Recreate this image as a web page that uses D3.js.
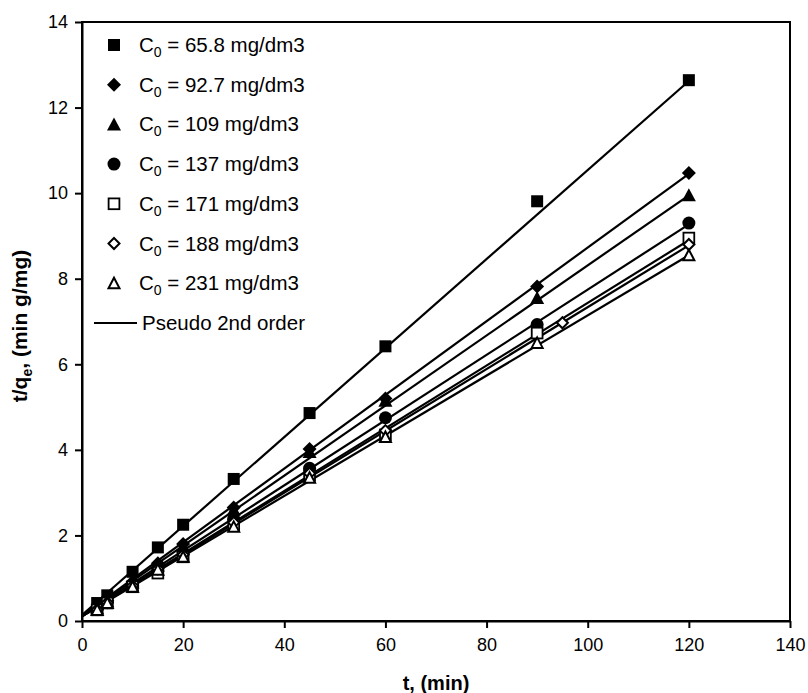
<!DOCTYPE html>
<html>
<head>
<meta charset="utf-8">
<script src="https://cdn.jsdelivr.net/npm/d3@7"></script>
<style>
body { margin:0; background:#fff; }
svg { font-family: "Liberation Sans", Arial, Helvetica, sans-serif; }
</style>
</head>
<body>
<svg id="chart" width="808" height="693"></svg>
<script>
// sampling times (min)
var times     = [3, 5, 10, 15, 20, 30, 45, 60, 90, 120],
    times188  = [3, 5, 10, 15, 20, 30, 45, 60, 95, 120];

// t/qe values
var c658 = [0.42, 0.60, 1.15, 1.72, 2.25, 3.32, 4.86, 6.42, 9.81, 12.64],
    c927 = [0.30, 0.48, 0.92, 1.35, 1.80, 2.65, 4.02, 5.20, 7.82, 10.47],
    c109 = [0.30, 0.46, 0.90, 1.30, 1.75, 2.60, 3.95, 5.15, 7.55, 9.95],
    c137 = [0.28, 0.44, 0.85, 1.25, 1.60, 2.38, 3.57, 4.75, 6.93, 9.30],
    c171 = [0.26, 0.42, 0.80, 1.12, 1.50, 2.25, 3.40, 4.35, 6.73, 8.95],
    c188 = [0.27, 0.43, 0.82, 1.22, 1.55, 2.30, 3.45, 4.45, 6.97, 8.80],
    c231 = [0.26, 0.42, 0.80, 1.20, 1.50, 2.20, 3.35, 4.30, 6.50, 8.55];

// pseudo 2nd order lines: value at t=0 and at t=120
var fitT     = [0, 120],
    fitStart = [0.14, 0.12, 0.12, 0.12, 0.11, 0.11, 0.11],
    fitEnd   = [12.62, 10.45, 9.95, 9.27, 8.9, 8.78, 8.55];

var labels  = ["65.8", "92.7", "109", "137", "171", "188", "231"],
    symbols = ["square", "diamond", "triangle", "circle", "square", "diamond", "triangle"],
    filled  = [true, true, true, true, false, false, false];

var xTicks = [0, 20, 40, 60, 80, 100, 120, 140],
    yTicks = [0, 2, 4, 6, 8, 10, 12, 14];

var series = [
	{t: times, v: c658}, {t: times, v: c927}, {t: times, v: c109}, {t: times, v: c137},
	{t: times, v: c171}, {t: times188, v: c188}, {t: times, v: c231}
];

var svg = d3.select("#chart"),
    x = d3.scaleLinear().domain([0, 140]).range([82, 790]),
    y = d3.scaleLinear().domain([0, 14]).range([621, 22]);

function marker(sel, kind, isFilled) {
	var fill = isFilled ? "#000" : "#fff", sw = isFilled ? 0 : 2;
	if (kind == "square")
		sel.append("rect").attr("x", -6).attr("y", -6).attr("width", 12).attr("height", 12)
			.attr("fill", fill).attr("stroke", "#000").attr("stroke-width", sw)
			.attr("transform", isFilled ? null : "scale(0.9)");
	else if (kind == "diamond")
		sel.append("path").attr("d", isFilled ? "M0,-7L7,0L0,7L-7,0Z" : "M0,-5.5L5.5,0L0,5.5L-5.5,0Z")
			.attr("fill", fill).attr("stroke", "#000").attr("stroke-width", sw);
	else if (kind == "triangle")
		sel.append("path").attr("d", isFilled ? "M0,-7L7,6L-7,6Z" : "M0,-5.5L5.5,5L-5.5,5Z")
			.attr("fill", fill).attr("stroke", "#000").attr("stroke-width", sw);
	else
		sel.append("circle").attr("r", 6.5).attr("fill", fill);
}

// frame
svg.append("rect").attr("x", 82).attr("y", 22).attr("width", 708).attr("height", 599)
	.attr("fill", "none").attr("stroke", "#000").attr("stroke-width", 2);

// axes
var xAxis = svg.append("g").attr("transform", "translate(0,621)")
	.call(d3.axisBottom(x).tickValues(xTicks).tickSize(7).tickSizeOuter(0).tickPadding(10));
var yAxis = svg.append("g").attr("transform", "translate(82,0)")
	.call(d3.axisLeft(y).tickValues(yTicks).tickSize(7).tickSizeOuter(0).tickPadding(7));
[xAxis, yAxis].forEach(function(a) {
	a.select(".domain").attr("stroke-width", 2);
	a.selectAll(".tick line").attr("stroke-width", 2);
	a.selectAll(".tick text").attr("font-size", 18).attr("font-family", "Liberation Sans, Arial, sans-serif").attr("fill", "#000");
});

svg.append("text").attr("x", 436).attr("y", 690).attr("text-anchor", "middle")
	.attr("font-size", 20).attr("font-weight", "bold").text("t, (min)");
var yt = svg.append("text").attr("transform", "translate(27,326) rotate(-90)")
	.attr("text-anchor", "middle").attr("font-size", 21).attr("font-weight", "bold");
yt.append("tspan").text("t/q");
yt.append("tspan").attr("font-size", 14).attr("dy", 5).text("e");
yt.append("tspan").attr("dy", -5).text(", (min g/mg)");

// fitted lines
var line = d3.line().x(function(d) { return x(d[0]); }).y(function(d) { return y(d[1]); });
fitStart.forEach(function(s, i) {
	svg.append("path").attr("d", line([[fitT[0], s], [fitT[1], fitEnd[i]]]))
		.attr("fill", "none").attr("stroke", "#000").attr("stroke-width", 2.2);
});

// data points
series.forEach(function(s, i) {
	s.v.forEach(function(v, j) {
		var g = svg.append("g").attr("transform", "translate(" + x(s.t[j]) + "," + y(v) + ")");
		marker(g, symbols[i], filled[i]);
	});
});

// legend
var leg = svg.append("g");
labels.forEach(function(l, i) {
	var row = leg.append("g").attr("transform", "translate(0," + (45 + i * 39.7) + ")");
	marker(row.append("g").attr("transform", "translate(114,0)"), symbols[i], filled[i]);
	var t = row.append("text").attr("x", 139).attr("y", 7).attr("font-size", 20.5);
	t.append("tspan").text("C");
	t.append("tspan").attr("font-size", 14).attr("dy", 5).text("0");
	t.append("tspan").attr("dy", -5).text(" = " + l + " mg/dm3");
});
var lr = leg.append("g").attr("transform", "translate(0," + (45 + 7 * 39.7) + ")");
lr.append("line").attr("x1", 94).attr("x2", 137).attr("stroke", "#000").attr("stroke-width", 2);
lr.append("text").attr("x", 142).attr("y", 7).attr("font-size", 20.5).text("Pseudo 2nd order");
</script>
</body>
</html>
